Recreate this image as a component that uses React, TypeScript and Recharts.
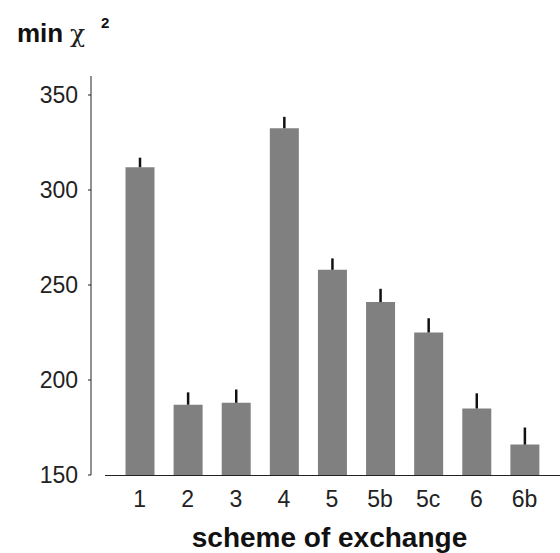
import React from 'react';
import { BarChart, Bar, XAxis, YAxis, ErrorBar } from 'recharts';

// Schemes of exchange and their minimum chi-square values
const SCHEMES = ['1', '2', '3', '4', '5', '5b', '5c', '6', '6b'];
const MIN_CHI2 = [312, 187, 188, 332.5, 258, 241, 225, 185, 166];
// upper error only (bars drawn upward from the bar top)
const ERR_UP = [5, 6.5, 7, 6, 6, 7, 7.5, 8, 9];
const Y_TICKS = [150, 200, 250, 300, 350];

const FONT = '"Liberation Sans", Arial, Helvetica, sans-serif';

export default function App() {
  const data = SCHEMES.map((scheme, i) => ({
    scheme,
    value: MIN_CHI2[i],
    err: [0, ERR_UP[i]],
  }));

  return (
    <div style={{ position: 'absolute', left: 0, top: 0, width: 560, height: 553, background: '#fff', fontFamily: FONT }}>
      {/* y-axis title: min χ² */}
      <svg width={140} height={60} style={{ position: 'absolute', left: 0, top: 0 }}>
        <text x={17} y={42} fontSize={26} fontWeight="bold" fill="#111" fontFamily={FONT}>min</text>
        <text x={70} y={42} fontSize={25} fill="#222" fontFamily={'"DejaVu Serif", serif'}>χ</text>
        <text x={101} y={28} fontSize={15} fontWeight="bold" fill="#111" fontFamily={FONT}>2</text>
      </svg>
      {/* x axis baseline (detached from the y axis, as in the original) */}
      <div style={{ position: 'absolute', left: 105, top: 475, width: 455, height: 1, background: '#222' }} />
      <BarChart
        width={560}
        height={553}
        data={data}
        margin={{ top: 76, right: 0, left: 0, bottom: 0 }}
      >
        <XAxis
          dataKey="scheme"
          height={78}
          axisLine={false}
          tickLine={false}
          tickSize={0}
          tickMargin={16}
          padding={{ left: 24.5, right: 11.5 }}
          tick={{ fontSize: 23, fill: '#222', fontFamily: FONT }}
          interval={0}
          label={{
            value: 'scheme of exchange',
            position: 'insideBottom',
            offset: 6,
            dx: 4,
            style: { fontSize: 28, fontWeight: 'bold', fill: '#111', fontFamily: FONT },
          }}
        />
        <YAxis
          type="number"
          domain={[150, 360]}
          ticks={Y_TICKS}
          width={91}
          axisLine={{ stroke: '#222' }}
          tickLine={{ stroke: '#222' }}
          tickSize={3}
          tickMargin={10}
          tick={{ fontSize: 23, fill: '#222', fontFamily: FONT }}
          allowDataOverflow
        />
        <Bar dataKey="value" fill="#808080" barSize={29} isAnimationActive={false}>
          <ErrorBar dataKey="err" width={0} stroke="#111" strokeWidth={2.5} direction="y" />
        </Bar>
      </BarChart>
    </div>
  );
}
